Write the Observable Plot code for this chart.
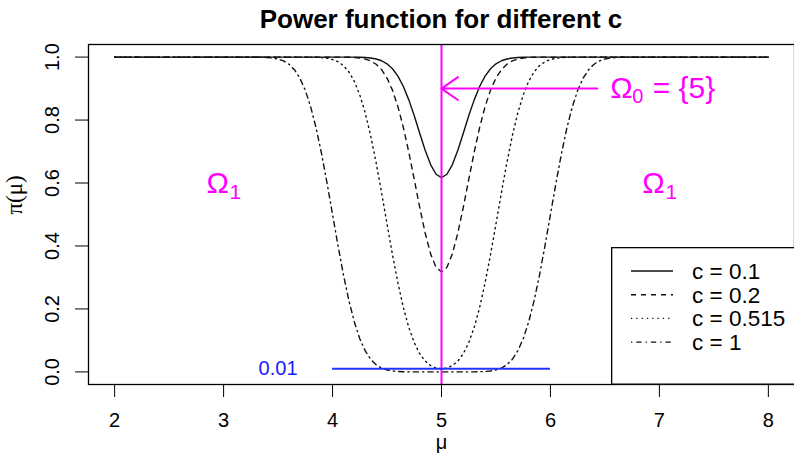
<!DOCTYPE html>
<html><head><meta charset="utf-8">
<script src="https://cdn.jsdelivr.net/npm/d3@7"></script>
<script src="https://cdn.jsdelivr.net/npm/@observablehq/plot@0.6"></script>
<style>
body{margin:0;background:#fff;width:794px;height:456px;overflow:hidden;position:relative;font-family:"Liberation Sans",Arial,sans-serif}
#title{height:36px;line-height:38px;padding-left:88px;text-align:center;font-weight:bold;font-size:26px;color:#000}
#legend{position:absolute;left:611px;top:247px;}
</style></head><body>
<div id="title">Power function for different c</div>
<div id="chart"></div>
<div id="legend"></div>
<script>
const mu = [2, 3.2,3.25,3.3,3.35,3.4,3.45,3.5,3.55,3.6,3.65,3.7,3.75,3.8,3.85,3.9,3.95,4,4.05,4.1,4.15,4.2,4.25,4.3,4.35,4.4,4.45,4.5,4.55,4.6,4.65,4.7,4.75,4.8,4.85,4.9,4.95,5,5.05,5.1,5.15,5.2,5.25,5.3,5.35,5.4,5.45,5.5,5.55,5.6,5.65,5.7,5.75,5.8,5.85,5.9,5.95,6,6.05,6.1,6.15,6.2,6.25,6.3,6.35,6.4,6.45,6.5,6.55,6.6,6.65,6.7,6.75,6.8, 8];
const powC01 = [1, 1,1,1,1,1,1,1,1,1,1,1,1,1,1,1,1,1,1,1, 0.9999,0.9998,0.9994,0.9987,0.9971,0.9940,0.9884,0.9786,0.9629,0.9394,0.9066,0.8641,0.8135,0.7583,0.7043,0.6587,0.6279, 0.6171, 0.6279,0.6587,0.7043,0.7583,0.8135,0.8641,0.9066,0.9394,0.9629,0.9786,0.9884,0.9940,0.9971,0.9987,0.9994,0.9998,0.9999, 1,1,1,1,1,1,1,1,1,1,1,1,1,1,1,1,1,1,1, 1];
const powC02 = [1, 1,1,1,1,1,1,1,1,1,1,1,1,1,1,1,1,1,1, 0.9998,0.9994,0.9987,0.9970,0.9938,0.9878,0.9772,0.9600,0.9334,0.8950,0.8426,0.7764,0.6977,0.6109,0.5228,0.4414,0.3753,0.3322, 0.3173, 0.3322,0.3753,0.4414,0.5228,0.6109,0.6977,0.7764,0.8426,0.8950,0.9334,0.9600,0.9772,0.9878,0.9938,0.9970,0.9987,0.9994,0.9998, 1,1,1,1,1,1,1,1,1,1,1,1,1,1,1,1,1,1, 1];
const powC0515 = [1, 1,1,1,1,1,1,1,1,1,1,1, 0.9999,0.9997,0.9993,0.9983,0.9963,0.9923,0.9852,0.9729,0.9530,0.9229,0.8800,0.8225,0.7502,0.6646,0.5695,0.4701,0.3726,0.2827,0.2047,0.1412,0.0927,0.0578,0.0344,0.0201,0.0124, 0.0100, 0.0124,0.0201,0.0344,0.0578,0.0927,0.1412,0.2047,0.2827,0.3726,0.4701,0.5695,0.6646,0.7502,0.8225,0.8800,0.9229,0.9530,0.9729,0.9852,0.9923,0.9963,0.9983,0.9993,0.9997,0.9999, 1,1,1,1,1,1,1,1,1,1,1, 1];
const powC1 = [1, 1,0.9999,0.9998,0.9994,0.9987,0.9970,0.9938,0.9878,0.9772,0.9599,0.9332,0.8944,0.8413,0.7734,0.6915,0.5987,0.5,0.4013,0.3085,0.2266,0.1587,0.1056,0.0668,0.0401,0.0228,0.0122,0.0062,0.0030,0.0013,0.0006,0.0002,0.0001,0,0,0,0, 0, 0,0,0,0,0.0001,0.0002,0.0006,0.0013,0.0030,0.0062,0.0122,0.0228,0.0401,0.0668,0.1056,0.1587,0.2266,0.3085,0.4013,0.5,0.5987,0.6915,0.7734,0.8413,0.8944,0.9332,0.9599,0.9772,0.9878,0.9938,0.9970,0.9987,0.9994,0.9998,0.9999,1, 1];
const cLabels = ["c = 0.1", "c = 0.2", "c = 0.515", "c = 1"];
const dashes = ["none", "5,5", "1.3,4", "1.3,4,5.3,4"];
const xTicks = [2, 3, 4, 5, 6, 7, 8];
const yTicks = [0, 0.2, 0.4, 0.6, 0.8, 1.0];
const nullMu = [5];
const alphaLine = [{y: 0.01, from: 4, to: 6}];
const alphaText = [{x: 3.5, y: 0.01, t: "0.01"}];
const arrowData = [{x1: 6.43, x2: 5, y: 0.9}];
const omega0Pos = [{x: 6.55, y: 0.9}];
const omega1Pos = [{x: 3, y: 0.6}, {x: 7, y: 0.6}];

const series = [powC01, powC02, powC0515, powC1];
const lineMarks = series.map((vals, s) =>
  Plot.line(mu.map((m, i) => ({mu: m, p: vals[i]})), {
    x: "mu", y: "p", stroke: "#111", strokeWidth: 1.4,
    strokeDasharray: dashes[s] === "none" ? null : dashes[s]
  }));

const MAG = "#ff00ff";
const chart = Plot.plot({
  width: 794, height: 420,
  marginLeft: 88, marginRight: 0, marginTop: 8, marginBottom: 72,
  style: {fontFamily: '"Liberation Sans",Arial,sans-serif', fontSize: "20px", background: "white", color: "black"},
  x: {domain: [1.76, 8.24]},
  y: {domain: [-0.04, 1.04]},
  marks: [
    Plot.axisX({ticks: xTicks, tickSize: 13, tickPadding: 15, tickFormat: d3.format("d"), label: null, fontSize: 20}),
    Plot.axisY({ticks: yTicks, tickSize: 13, tickPadding: 17, tickRotate: -90, tickFormat: d3.format(".1f"), label: null, fontSize: 20}),
    ...lineMarks,
    Plot.ruleX(nullMu, {x: d => d, stroke: MAG, strokeWidth: 2}),
    Plot.ruleY(alphaLine, {y: "y", x1: "from", x2: "to", stroke: "#2233ff", strokeWidth: 2}),
    Plot.text(alphaText, {x: "x", y: "y", text: "t", fill: "#1a1aff", fontSize: 20}),
    Plot.arrow(arrowData, {x1: "x1", x2: "x2", y1: "y", y2: "y", stroke: MAG, strokeWidth: 2, headLength: 15, headAngle: 70}),
    Plot.text(omega0Pos, {x: "x", y: "y", text: () => "Ω", fill: MAG, fontSize: 30, textAnchor: "start"}),
    Plot.text(omega0Pos, {x: "x", y: "y", text: () => "0", fill: MAG, fontSize: 20, textAnchor: "start", dx: 22, dy: 8}),
    Plot.text(omega0Pos, {x: "x", y: "y", text: () => " = {5}", fill: MAG, fontSize: 30, textAnchor: "start", dx: 34}),
    Plot.text(omega1Pos, {x: "x", y: "y", text: () => "Ω", fill: MAG, fontSize: 30, dx: -6}),
    Plot.text(omega1Pos, {x: "x", y: "y", text: () => "1", fill: MAG, fontSize: 21, textAnchor: "start", dx: 6, dy: 9}),
    Plot.text(["π(μ)"], {frameAnchor: "left", dx: -74, rotate: -90, text: d => d, fontSize: 23, fontFamily: '"Liberation Serif",serif'}),
    Plot.text(["μ"], {frameAnchor: "bottom", dy: 64, text: d => d, fontSize: 20}),
    Plot.frame({stroke: "black", strokeWidth: 1.3})
  ]
});
document.getElementById("chart").appendChild(chart);

// legend
const lg = d3.select("#legend").append("svg").attr("width", 190).attr("height", 138);
lg.append("rect").attr("x", 0.65).attr("y", 0.65).attr("width", 200).attr("height", 136.5)
  .attr("fill", "white").attr("stroke", "black").attr("stroke-width", 1.3);
cLabels.forEach((lab, i) => {
  const yy = 24 + i * 23.7;
  lg.append("line").attr("x1", 20).attr("x2", 62).attr("y1", yy).attr("y2", yy)
    .attr("stroke", "#111").attr("stroke-width", 1.4)
    .attr("stroke-dasharray", dashes[i] === "none" ? null : dashes[i]);
  lg.append("text").attr("x", 81).attr("y", yy).attr("dy", "0.35em")
    .attr("font-size", 22.5).attr("font-family", '"Liberation Sans",Arial,sans-serif').text(lab);
});
</script>
</body></html>
